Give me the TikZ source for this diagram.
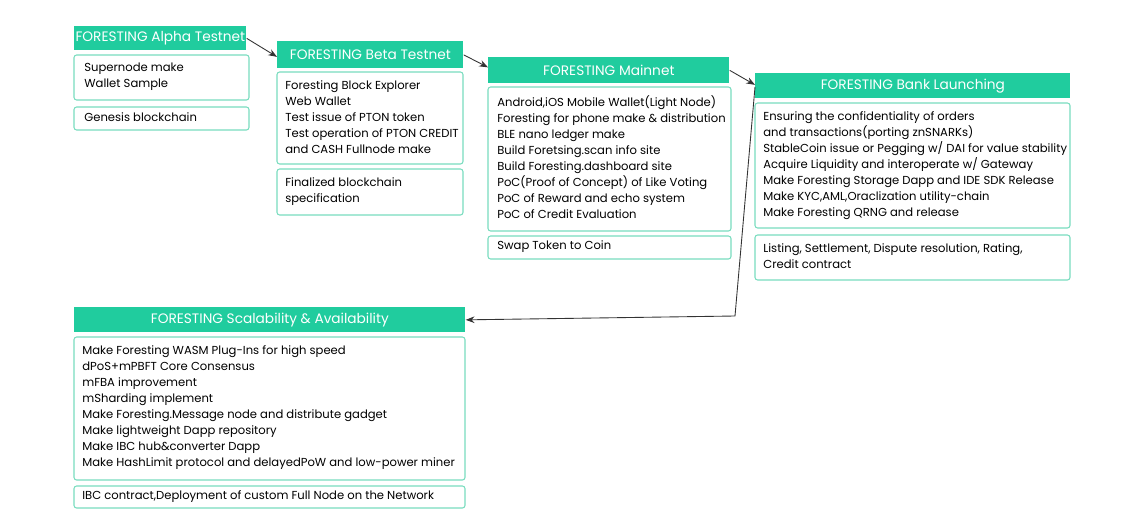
\documentclass[tikz,border=0pt]{standalone}
\usepackage{fontspec}
\setmainfont{Poppins}
\usepackage{xcolor}
\usetikzlibrary{calc,arrows.meta}
\definecolor{tealhead}{RGB}{32,204,158}
\definecolor{tealline}{RGB}{120,220,190}
\tikzset{
  hdr/.style={fill=tealhead,text=white,font=\fontsize{7.8}{9}\selectfont,inner sep=0pt,anchor=north west},
  frame/.style={draw=tealline,line width=0.6pt,rounded corners=1.5pt},
  txt/.style={align=left,font=\fontsize{6.6}{9.1}\selectfont,inner sep=0pt,anchor=north west},
  arr/.style={-{Stealth[length=5pt]},line width=0.5pt,draw=black!80}
}
\begin{document}
\begin{tikzpicture}[x=0.02cm,y=-0.02cm]
    %RAMKA
    \useasboundingbox (0,0) rectangle (1147,514);
    %ALPHA
    \node[hdr,minimum width=172*0.02cm,minimum height=24*0.02cm] (alpha) at (74,26) {FORESTING Alpha Testnet};
    \draw[frame] (74,55) rectangle (249,100);
    \node[txt] (alpha1) at (84,63) {Supernode make\\Wallet Sample};
    \draw[frame] (74,107) rectangle (249,130);
    \node[txt] (alpha2) at (84,112) {Genesis blockchain};
    %BETA
    \node[hdr,minimum width=186*0.02cm,minimum height=27*0.02cm] (beta) at (277,41) {FORESTING Beta Testnet};
    \draw[frame] (277,72) rectangle (463,164);
    \node[txt] (beta1) at (285,80) {Foresting Block Explorer\\Web Wallet\\Test issue of PTON token\\Test operation of PTON CREDIT\\and CASH Fullnode make};
    \draw[frame] (277,169) rectangle (463,215);
    \node[txt] (beta2) at (285,177) {Finalized blockchain\\specification};
    %MAINNET
    \node[hdr,minimum width=241*0.02cm,minimum height=26*0.02cm] (main) at (488,57) {FORESTING Mainnet};
    \draw[frame] (488,87) rectangle (731,231);
    \node[txt] (main1) at (497,95) {Android,iOS Mobile Wallet(Light Node)\\Foresting for phone make \& distribution\\BLE nano ledger make\\Build Foretsing.scan info site\\Build Foresting.dashboard site\\PoC(Proof of Concept) of Like Voting\\PoC of Reward and echo system\\PoC of Credit Evaluation};
    \draw[frame] (488,236) rectangle (731,259);
    \node[txt] (main2) at (497,240) {Swap Token to Coin};
    %BANK
    \node[hdr,minimum width=315*0.02cm,minimum height=25*0.02cm] (bank) at (755,73) {FORESTING Bank Launching};
    \draw[frame] (755,103) rectangle (1070,228);
    \node[txt] (bank1) at (763,111) {Ensuring the confidentiality of orders\\and transactions(porting znSNARKs)\\StableCoin issue or Pegging w/ DAI for value stability\\Acquire Liquidity and interoperate w/ Gateway\\Make Foresting Storage Dapp and IDE SDK Release\\Make KYC,AML,Oraclization utility-chain\\Make Foresting QRNG and release};
    \draw[frame] (755,235) rectangle (1070,280);
    \node[txt] (bank2) at (763,243) {Listing, Settlement, Dispute resolution, Rating,\\Credit contract};
    %SCALABILITY
    \node[hdr,minimum width=391*0.02cm,minimum height=25*0.02cm] (scal) at (74,307) {FORESTING Scalability \& Availability};
    \draw[frame] (74,337) rectangle (465,480);
    \node[txt] (scal1) at (82,345) {Make Foresting WASM Plug-Ins for high speed\\dPoS+mPBFT Core Consensus\\mFBA improvement\\mSharding implement\\Make Foresting.Message node and distribute gadget\\Make lightweight Dapp repository\\Make IBC hub\&converter Dapp\\Make HashLimit protocol and delayedPoW and low-power miner};
    \draw[frame] (74,486) rectangle (465,508);
    \node[txt] (scal2) at (82,490) {IBC contract,Deployment of custom Full Node on the Network};
    %PANAH
    \coordinate (turn) at (735,316);
    \draw[arr] (alpha.east) -- ($(beta.west)+(0,2)$);
    \draw[arr] (beta.east) -- ($(main.west)+(0,-3)$);
    \draw[arr] (main.east) -- ($(bank.west)+(0,-1)$);
    \draw[arr] ($(bank.north west)+(0,14)$) -- (turn) -- (scal.east);
\end{tikzpicture}
\end{document}
